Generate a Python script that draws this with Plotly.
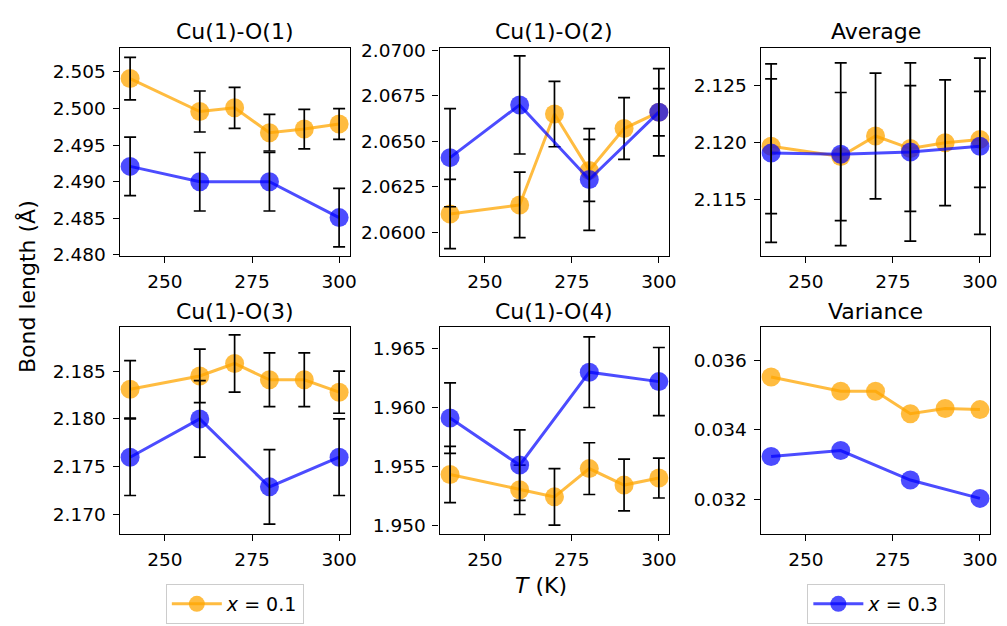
import plotly.graph_objects as go

# ---------------- data ----------------
T_01 = [240, 260, 270, 280, 290, 300]
T_03 = [240, 260, 280, 300]

titles = ["Cu(1)-O(1)", "Cu(1)-O(2)", "Average", "Cu(1)-O(3)", "Cu(1)-O(4)", "Variance"]

O1_01 = [2.5041, 2.4996, 2.5001, 2.4967, 2.4972, 2.4979]
O1_01_err = [0.0029, 0.0028, 0.0028, 0.0025, 0.0027, 0.0021]
O1_03 = [2.4921, 2.4900, 2.4900, 2.4851]
O1_03_err = [0.0040, 0.0040, 0.0040, 0.0040]

O2_01 = [2.0610, 2.0615, 2.0665, 2.0634, 2.0657, 2.0666]
O2_01_err = [0.0019, 0.0018, 0.0018, 0.0017, 0.0017, 0.0013]
O2_03 = [2.0641, 2.0670, 2.0629, 2.0666]
O2_03_err = [0.0027, 0.0027, 0.0028, 0.0024]

Avg_01 = [2.1197, 2.1188, 2.1206, 2.1195, 2.1200, 2.1203]
Avg_01_err = [0.0059, 0.0056, 0.0055, 0.0055, 0.0055, 0.0042]
Avg_03 = [2.1191, 2.1190, 2.1192, 2.1197]
Avg_03_err = [0.0078, 0.0080, 0.0078, 0.0077]

O3_01 = [2.1831, 2.1845, 2.1858, 2.1841, 2.1841, 2.1828]
O3_01_err = [0.0030, 0.0028, 0.0030, 0.0028, 0.0028, 0.0022]
O3_03 = [2.1760, 2.1800, 2.1729, 2.1760]
O3_03_err = [0.0040, 0.0040, 0.0039, 0.0040]

O4_01 = [1.9543, 1.9530, 1.9524, 1.9548, 1.9534, 1.9540]
O4_01_err = [0.0024, 0.0021, 0.0024, 0.0022, 0.0022, 0.0017]
O4_03 = [1.9591, 1.9551, 1.9630, 1.9622]
O4_03_err = [0.0030, 0.0030, 0.0030, 0.0029]

Var_01 = [0.03552, 0.03511, 0.03511, 0.03446, 0.03461, 0.03458]
Var_03 = [0.03323, 0.03340, 0.03255, 0.03202]

x_ticks = [250, 275, 300]
y_ticks = [
    [2.480, 2.485, 2.490, 2.495, 2.500, 2.505],
    [2.0600, 2.0625, 2.0650, 2.0675, 2.0700],
    [2.115, 2.120, 2.125],
    [2.170, 2.175, 2.180, 2.185],
    [1.950, 1.955, 1.960, 1.965],
    [0.032, 0.034, 0.036],
]
labels = ["<i>x</i> = 0.1", "<i>x</i> = 0.3"]

series_01 = [(O1_01, O1_01_err), (O2_01, O2_01_err), (Avg_01, Avg_01_err),
             (O3_01, O3_01_err), (O4_01, O4_01_err), (Var_01, None)]
series_03 = [(O1_03, O1_03_err), (O2_03, O2_03_err), (Avg_03, Avg_03_err),
             (O3_03, O3_03_err), (O4_03, O4_03_err), (Var_03, None)]

# ---------------- layout config ----------------
W, H = 1007, 626
col_px = [(120.5, 352.0), (442.7, 674.0), (766.0, 997.3)]
row_px = [(41.0, 255.0), (328.5, 541.7)]
y_ranges = [
    [2.4799, 2.5083],
    [2.05871, 2.07014],
    [2.11013, 2.12831],
    [2.16796, 2.18961],
    [1.94923, 1.96684],
    [0.03099, 0.03696],
]
y_formats = [".3f", ".4f", ".3f", ".3f", ".3f", ".3f"]
x_range = [237, 303]

FONT = "DejaVu Sans"
TICK_SIZE = 18.5
TITLE_SIZE = 22
LABEL_SIZE = 22
ORANGE = "rgba(255,165,0,0.75)"
BLUE = "rgba(0,0,255,0.7)"

fig = go.Figure()

for i in range(6):
    r, c = divmod(i, 3)
    xa = "x" if i == 0 else f"x{i+1}"
    ya = "y" if i == 0 else f"y{i+1}"
    for (T, ser, color, lg, name, leg) in [
        (T_01, series_01[i], ORANGE, "g1", labels[0], "legend"),
        (T_03, series_03[i], BLUE, "g2", labels[1], "legend2"),
    ]:
        vals, err = ser
        fig.add_trace(go.Scatter(
            x=T, y=vals, mode="lines+markers", name=name,
            line=dict(color=color, width=3),
            marker=dict(color=color, size=19, line=dict(width=0)),
            xaxis=xa, yaxis=ya, legendgroup=lg, legend=leg,
            showlegend=(i == 0),
        ))
        if err is not None:
            fig.add_trace(go.Scatter(
                x=T, y=vals, mode="markers",
                marker=dict(color="rgba(0,0,0,0)", size=1),
                error_y=dict(type="data", array=err, color="black",
                             thickness=1.7, width=6),
                xaxis=xa, yaxis=ya, showlegend=False, hoverinfo="skip",
            ))

axis_common = dict(
    showline=True, linecolor="black", linewidth=1.3, mirror=True,
    ticks="outside", ticklen=6, tickwidth=1.3, tickcolor="black",
    showgrid=False, zeroline=False,
    tickfont=dict(family=FONT, size=TICK_SIZE, color="black"),
    ticklabelstandoff=3,
)

layout_axes = {}
annotations = []
for i in range(6):
    r, c = divmod(i, 3)
    x0, x1 = col_px[c]
    t0, t1 = row_px[r]
    xd = [x0 / W, x1 / W]
    yd = [1 - t1 / H, 1 - t0 / H]
    xkey = "xaxis" if i == 0 else f"xaxis{i+1}"
    ykey = "yaxis" if i == 0 else f"yaxis{i+1}"
    xa = "x" if i == 0 else f"x{i+1}"
    ya = "y" if i == 0 else f"y{i+1}"
    layout_axes[xkey] = dict(domain=xd, anchor=ya, range=x_range,
                             tickvals=x_ticks, **axis_common)
    layout_axes[ykey] = dict(domain=yd, anchor=xa, range=y_ranges[i],
                             tickvals=y_ticks[i], tickformat=y_formats[i],
                             **axis_common)
    annotations.append(dict(
        text=titles[i], xref="paper", yref="paper",
        x=(x0 + x1) / 2 / W, y=1 - (t0 - 16.5) / H,
        xanchor="center", yanchor="middle", showarrow=False,
        font=dict(family=FONT, size=TITLE_SIZE, color="black"),
    ))

annotations.append(dict(
    text="Bond length (Å)", xref="paper", yref="paper",
    x=26.5 / W, y=1 - 287 / H, textangle=-90,
    xanchor="center", yanchor="middle", showarrow=False,
    font=dict(family=FONT, size=LABEL_SIZE, color="black"),
))
annotations.append(dict(
    text="<i>T</i> (K)", xref="paper", yref="paper",
    x=545 / W, y=1 - 595 / H,
    xanchor="center", yanchor="middle", showarrow=False,
    font=dict(family=FONT, size=LABEL_SIZE, color="black"),
))

legend_common = dict(
    bgcolor="white", bordercolor="#cccccc", borderwidth=1,
    font=dict(family=FONT, size=19, color="black"),
    xanchor="left", yanchor="top", itemwidth=50,
)

fig.update_layout(
    width=W, height=H, autosize=False,
    margin=dict(l=0, r=0, t=0, b=0),
    paper_bgcolor="white", plot_bgcolor="white",
    annotations=annotations,
    legend=dict(x=167 / W, y=1 - 593 / H, **legend_common),
    legend2=dict(x=813 / W, y=1 - 593 / H, **legend_common),
    **layout_axes,
)

fig.write_html("out.html")
